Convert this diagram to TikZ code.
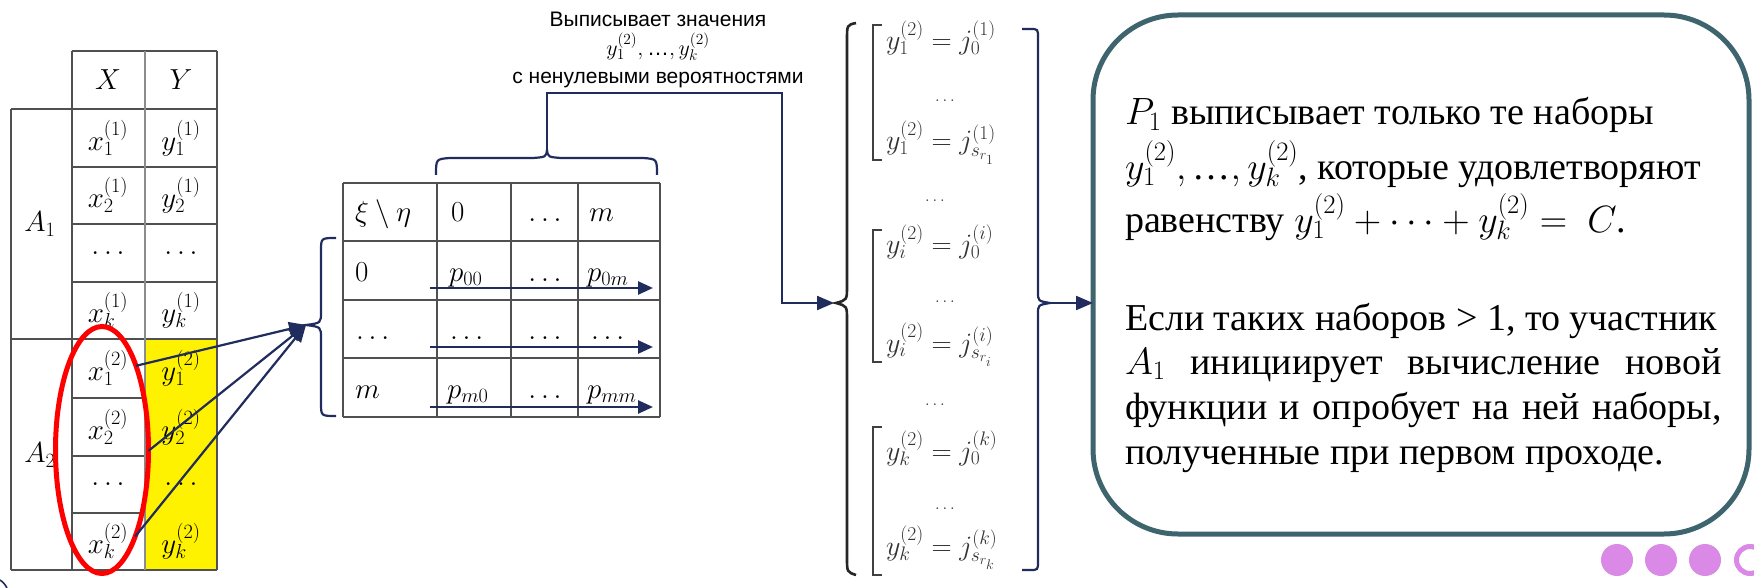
\documentclass[tikz,border=0pt]{standalone}
\usepackage{fix-cm}
\usepackage{fontspec}
\newfontfamily\sansru{Liberation Sans}
\newfontfamily\serifru{Liberation Serif}
\usetikzlibrary{arrows.meta,shapes.geometric}

\definecolor{navy}{RGB}{32,44,94}
\definecolor{boxline}{RGB}{62,100,110}
\definecolor{cellyellow}{RGB}{255,242,0}
\definecolor{orchid}{RGB}{218,138,230}
\definecolor{ovalred}{RGB}{255,0,0}
\definecolor{gridgray}{RGB}{80,80,80}

\begin{document}
\begin{tikzpicture}[x=1pt,y=-1pt,
  every node/.style={inner sep=0pt,outer sep=0pt},
  gridline/.style={draw=gridgray,line width=1.4pt},
  lightline/.style={draw=black!45,line width=1.4pt},
  lcell/.style={font=\fontsize{29}{34}\selectfont},
  pcell/.style={font=\fontsize{29}{34}\selectfont,anchor=base west},
  pdots/.style={font=\fontsize{29}{34}\selectfont,anchor=base},
  sys/.style={font=\fontsize{28}{32}\selectfont,text=black!80,anchor=base west},
  sysdots/.style={font=\fontsize{17}{20}\selectfont,text=black!80,anchor=base},
  bracket/.style={draw=black!75,line width=1.8pt},
  bigbrace/.style={draw=black!85,line width=2.6pt},
  link/.style={draw=navy,line width=2.2pt},
  arr/.style={link,-{Triangle[length=17pt,width=14pt]}},
  rowarr/.style={draw=navy,line width=2.6pt,-{Triangle[length=15pt,width=13pt]}},
  note/.style={font=\sansru\fontsize{21}{25}\selectfont,anchor=base},
  boxtext/.style={font=\serifru\fontsize{38}{45}\selectfont,anchor=base west},
]
\useasboundingbox (0,0) rectangle (1754,588);
\clip (0,0) rectangle (1754,588);
\fill[white] (0,0) rectangle (1754,588);

% ---------- table of pairs (x, y) for A1 and A2 ----------
\fill[cellyellow] (145,339) rectangle (217,570);
\draw[gridline] (72,51) -- (217,51);
\draw[gridline] (11,109) -- (217,109);
\draw[gridline] (72,167) -- (217,167);
\draw[gridline] (72,224) -- (217,224);
\draw[gridline] (72,282) -- (217,282);
\draw[gridline] (11,339) -- (217,339);
\draw[gridline] (72,398) -- (145,398);
\draw[gridline] (72,456) -- (145,456);
\draw[gridline] (72,513) -- (145,513);
\draw[gridline] (11,570) -- (217,570);
\draw[gridline] (11,109) -- (11,570);
\draw[gridline] (72,51) -- (72,570);
\draw[lightline] (145,51) -- (145,570);
\draw[gridline] (217,51) -- (217,570);

\node[lcell] (hX) at (108,80) {$X$};
\node[lcell] (hY) at (181,80) {$Y$};
\node[lcell] (x11) at (108,138) {$x_1^{(1)}$};
\node[lcell] (y11) at (181,138) {$y_1^{(1)}$};
\node[lcell] (x21) at (108,195) {$x_2^{(1)}$};
\node[lcell] (y21) at (181,195) {$y_2^{(1)}$};
\node[lcell] (xd1) at (108,253) {$\ldots$};
\node[lcell] (yd1) at (181,253) {$\ldots$};
\node[lcell] (xk1) at (108,310) {$x_k^{(1)}$};
\node[lcell] (yk1) at (181,310) {$y_k^{(1)}$};
\node[lcell] (x12) at (108,368) {$x_1^{(2)}$};
\node[lcell] (y12) at (181,368) {$y_1^{(2)}$};
\node[lcell] (x22) at (108,427) {$x_2^{(2)}$};
\node[lcell] (y22) at (181,427) {$y_2^{(2)}$};
\node[lcell] (xd2) at (108,484) {$\ldots$};
\node[lcell] (yd2) at (181,484) {$\ldots$};
\node[lcell] (xk2) at (108,541) {$x_k^{(2)}$};
\node[lcell] (yk2) at (181,541) {$y_k^{(2)}$};
\node[lcell] (A1) at (40,224) {$A_1$};
\node[lcell] (A2) at (40,455) {$A_2$};

\node[draw=ovalred,line width=5pt,ellipse,minimum width=93pt,minimum height=247pt] (oval) at (102,450) {};

% ---------- joint distribution table ----------
\foreach \yy in {183,241,300,358,417} \draw[gridline] (343,\yy) -- (660,\yy);
\foreach \xx in {343,437,511,578,660} \draw[gridline] (\xx,183) -- (\xx,417);

\node[pcell] (c00) at (355,222) {$\xi \setminus \eta$};
\node[pcell] (c01) at (451,222) {$0$};
\node[pdots] (c02) at (545,222) {$\ldots$};
\node[pcell] (c03) at (589,222) {$m$};
\node[pcell] (c10) at (355,281) {$0$};
\node[pcell] (c11) at (449,281) {$p_{00}$};
\node[pdots] (c12) at (545,281) {$\ldots$};
\node[pcell] (c13) at (587,281) {$p_{0m}$};
\node[pcell] (c20) at (356,339) {$\ldots$};
\node[pcell] (c21) at (450,339) {$\ldots$};
\node[pdots] (c22) at (545,339) {$\ldots$};
\node[pcell] (c23) at (591,339) {$\ldots$};
\node[pcell] (c30) at (355,398) {$m$};
\node[pcell] (c31) at (447,398) {$p_{m0}$};
\node[pdots] (c32) at (545,398) {$\ldots$};
\node[pcell] (c33) at (587,398) {$p_{mm}$};

\coordinate (r1a) at (430,288); \coordinate (r1b) at (653,288);
\coordinate (r2a) at (430,347); \coordinate (r2b) at (653,347);
\coordinate (r3a) at (430,407); \coordinate (r3b) at (653,407);
\draw[rowarr] (r1a) -- (r1b);
\draw[rowarr] (r2a) -- (r2b);
\draw[rowarr] (r3a) -- (r3b);

% brace on the left of the rows
\coordinate (tipL) at (306,325);
\draw[link] (336,238) .. controls (321,238) .. (321,251) -- (321,312)
  .. controls (321,323) .. (tipL) .. controls (321,327) .. (321,338)
  -- (321,403) .. controls (321,416) .. (336,416);

% arrows from the x^(2) values into the table
\draw[arr] (oval.68) -- (tipL);
\draw[arr] (oval.-1) -- (tipL);
\draw[arr] (oval.-69) -- (tipL);

% brace above the columns and the note
\coordinate (topTip) at (547,150);
\draw[link] (436,175) .. controls (436,159) .. (450,158) -- (533,158)
  .. controls (546,157) .. (topTip) .. controls (548,157) .. (561,158)
  -- (643,158) .. controls (657,159) .. (657,175);

\node[note] (n1) at (658,27) {Выписывает значения};
\node[note,font=\sansru\fontsize{22}{26}\selectfont] (n2) at (658,56) {$y_1^{(2)},\mbox{…},y_k^{(2)}$};
\node[note] (n3) at (658,84) {с ненулевыми вероятностями};

\coordinate (rise) at (782,93);
\coordinate (sysIn) at (834,303);
\draw[arr] (topTip) |- (rise) |- (sysIn);

% ---------- system of alternatives ----------
\draw[bigbrace] (856,23) .. controls (847,25) .. (847,40) -- (847,286)
  .. controls (847,300) .. (836,303) .. controls (847,306) .. (847,320)
  -- (847,558) .. controls (847,572) .. (856,575);

\draw[bracket] (882,25) -- (873,25) -- (873,160) -- (882,160);
\draw[bracket] (882,230) -- (873,230) -- (873,362) -- (882,362);
\draw[bracket] (882,427) -- (873,427) -- (873,575) -- (882,575);

\node[sys] (s1) at (886,50) {$y_1^{(2)} = j_0^{(1)}$};
\node[sysdots] (s1d) at (945,102) {$\ldots$};
\node[sys] (s2) at (886,150) {$y_1^{(2)} = j_{s_{r_1}}^{(1)}$};
\node[sysdots] (m1) at (935,202) {$\ldots$};
\node[sys] (s3) at (886,254) {$y_i^{(2)} = j_0^{(i)}$};
\node[sysdots] (s3d) at (945,302) {$\ldots$};
\node[sys] (s4) at (886,352) {$y_i^{(2)} = j_{s_{r_i}}^{(i)}$};
\node[sysdots] (m2) at (935,405) {$\ldots$};
\node[sys] (s5) at (886,460) {$y_k^{(2)} = j_0^{(k)}$};
\node[sysdots] (s5d) at (945,509) {$\ldots$};
\node[sys] (s6) at (886,555) {$y_k^{(2)} = j_{s_{r_k}}^{(k)}$};

\coordinate (sysOut) at (1050,303);
\draw[link] (1022,29) -- (1030,29) .. controls (1038,29) .. (1038,38) -- (1038,292)
  .. controls (1038,301) .. (sysOut) .. controls (1038,305) .. (1038,314)
  -- (1038,561) .. controls (1038,570) .. (1030,570) -- (1022,570);

% ---------- conclusion box ----------
\node[draw=boxline,line width=5pt,rounded corners=85pt,minimum width=656pt,minimum height=519pt] (box) at (1421,274.5) {};
\draw[arr] (sysOut) -- (sysOut -| box.west);

\node[boxtext] (b1) at (1125,125) {$P_1$ выписывает только те наборы};
\node[boxtext] (b2) at (1125,180) {$y_1^{(2)},\mbox{…},y_k^{(2)}$, которые удовлетворяют};
\node[boxtext] (b3) at (1125,233) {равенству $y_1^{(2)}+\cdots+y_k^{(2)} =\ C$.};
\node[boxtext] (b4) at (1125,330) {Если таких наборов > 1, то участник};
\node[boxtext] (b5) at (1125,374) {\makebox[597pt][s]{$A_1$ инициирует вычисление новой}};
\node[boxtext] (b6) at (1125,419) {\makebox[597pt][s]{функции и опробует на ней наборы,}};
\node[boxtext] (b7) at (1125,464) {полученные при первом проходе.};

% ---------- page ornaments ----------
\fill[orchid] (1617,560) circle[radius=16];
\fill[orchid] (1661,560) circle[radius=16];
\fill[orchid] (1705,560) circle[radius=16];
\draw[orchid,line width=5pt] (1750,560) circle[radius=13.5];
\draw[navy,line width=1.6pt] (0,580) .. controls (4,583) .. (7,588);
\end{tikzpicture}
\end{document}
